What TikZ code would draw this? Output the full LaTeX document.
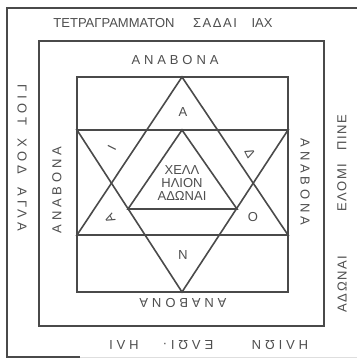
\documentclass[tikz,border=0pt]{standalone}
\usepackage{fontspec}
\setmainfont{Liberation Sans}
\definecolor{ink}{HTML}{4A4A4A}
\definecolor{txt}{HTML}{4E4E4E}
\begin{document}
\begin{tikzpicture}[x=1pt,y=-1pt,
  ln/.style={draw=ink,line width=1.6pt,line join=miter},
  lbl/.style={text=txt,inner sep=0pt,font=\fontsize{13}{13}\selectfont},
  wide/.style={text=txt,inner sep=0pt,font={\fontsize{13}{13}\selectfont\addfontfeature{LetterSpace=30}}},
  mid/.style={text=txt,inner sep=0pt,font={\fontsize{13}{13}\selectfont\addfontfeature{LetterSpace=12}}}]
\useasboundingbox (0,0) rectangle (357,360);
\fill[white] (0,0) rectangle (357,360);
% frames
\draw[ln,line width=1.3pt] (357,8) -- (7,8) -- (7,357) -- (80,357);
\draw[ln,line width=0.8pt,draw=ink!18] (80,357) -- (357,357);
\draw[ln] (39,41) rectangle (324,326);
\draw[ln] (77,77) rectangle (288,292);
\draw[ln] (77,130) -- (288,130);
\draw[ln] (77,235) -- (288,235);
% star
\coordinate (ut) at (182,77);
\coordinate (ul) at (77,235);
\coordinate (ur) at (288,235);
\coordinate (dl) at (77,130);
\coordinate (dr) at (288,130);
\coordinate (db) at (182,292);
\draw[ln] (ut) -- (ul) -- (ur) -- cycle;
\draw[ln] (dl) -- (dr) -- (db) -- cycle;
\coordinate (it) at (182,130);
\coordinate (il) at (128,209);
\coordinate (ir) at (237,209);
\draw[ln] (it) -- (il) -- (ir) -- cycle;
% outer texts
\node[lbl] (t1) at (114,23) {ΤΕΤΡΑΓΡΑΜΜΑΤΟΝ};
\node[mid] (t2) at (215,23) {ΣΑΔΑΙ};
\node[lbl] (t3) at (262,23) {ΙΑΧ};
\node[wide,rotate=-90] (lo) at (22,158) {ΓΙΟΤ\hspace{6pt} ΧΟΔ\hspace{6pt} ΑΓΛΑ};
\node[mid,rotate=90] (ro1) at (342,163) {ΕΛΟΜΙ\hspace{8pt} ΠΙΝΕ};
\node[mid,rotate=90] (ro2) at (342,284) {ΑΔΩΝΑΙ};
\node[wide,rotate=180] (bo1) at (124,345) {ΗΛΙ};
\node[wide,rotate=180] (bo2) at (188,345) {ΕΛΩΙ·};
\node[wide,rotate=180] (bo3) at (280,345) {ΗΛΙΩΝ};
% middle band
\node[wide] (a1) at (175,60) {ΑΝΑΒΟΝΑ};
\node[wide,rotate=90] (a2) at (57,190) {ΑΝΑΒΟΝΑ};
\node[wide,rotate=-90] (a3) at (305,182) {ΑΝΑΒΟΝΑ};
\node[wide,rotate=180] (a4) at (183,303) {ΑΝΑΒΟΝΑ};
% star letters
\node[lbl] (s1) at (183,112) {Α};
\node[lbl,rotate=-63.4] (s2) at (250,153) {Δ};
\node[lbl] (s3) at (253,217) {Ο};
\node[lbl,rotate=180] (s4) at (183,255) {Ν};
\node[lbl,rotate=116.6] (s5) at (110,219) {Α};
\node[lbl,rotate=63.4] (s6) at (112,148) {Ι};
% centre
\node[lbl] (c1) at (182,170) {ΧΕΛΛ};
\node[lbl] (c2) at (182,183) {ΗΛΙΟΝ};
\node[lbl] (c3) at (182,195.5) {ΑΔΩΝΑΙ};
\end{tikzpicture}
\end{document}
